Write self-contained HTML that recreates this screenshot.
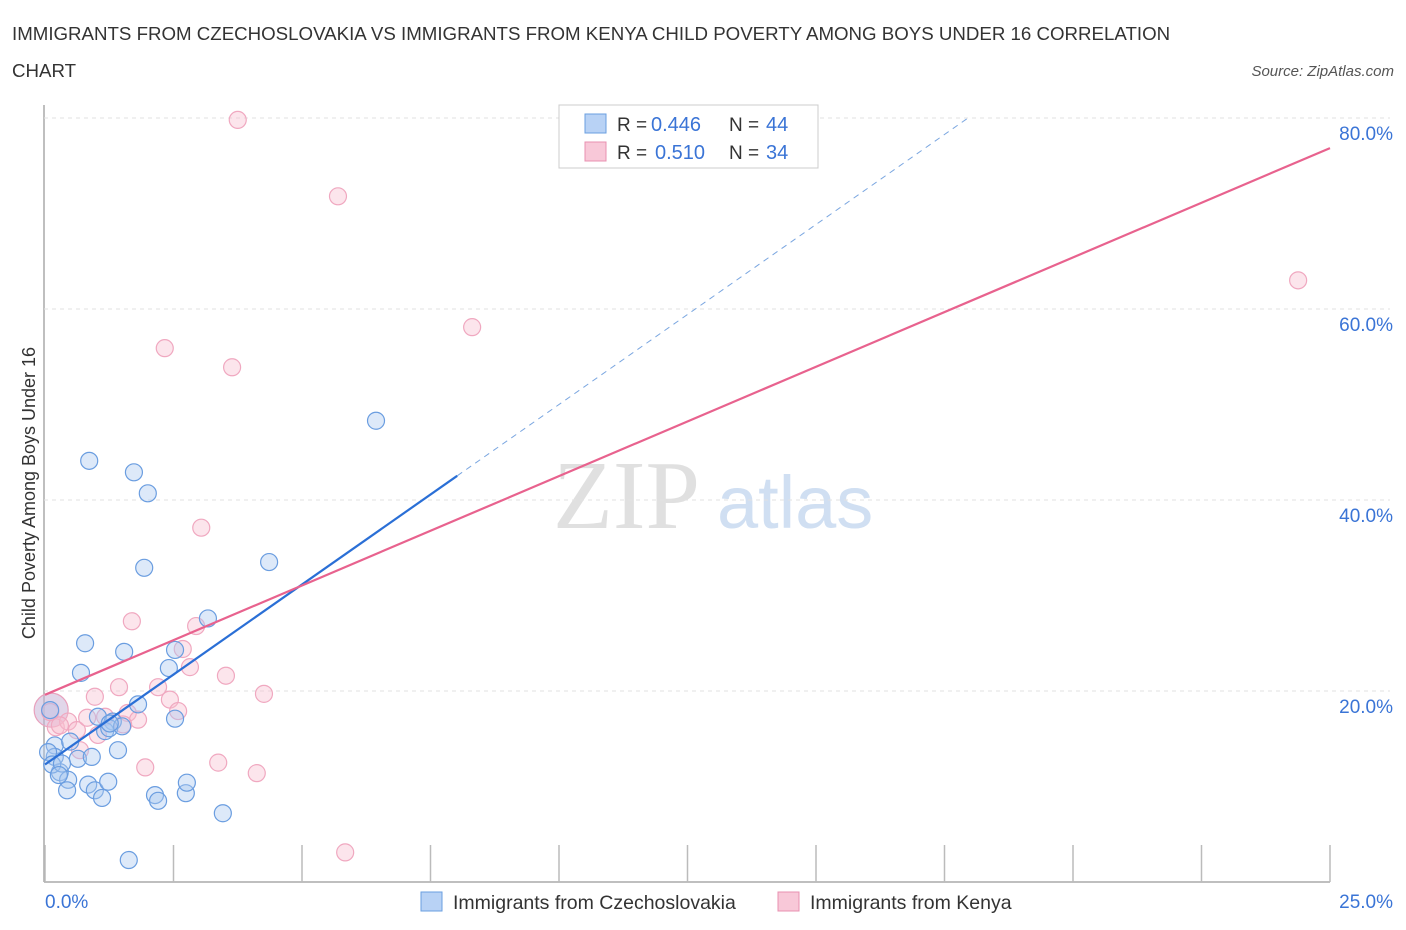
<!DOCTYPE html>
<html><head><meta charset="utf-8"><style>
body{margin:0;background:#fff;font-family:"Liberation Sans",sans-serif;}
svg{display:block}
</style></head><body>
<svg id="chart" width="1406" height="930">
<text x="12" y="40" font-size="18.7" fill="#333">IMMIGRANTS FROM CZECHOSLOVAKIA VS IMMIGRANTS FROM KENYA CHILD POVERTY AMONG BOYS UNDER 16 CORRELATION</text>
<text x="12" y="77" font-size="18.7" fill="#333">CHART</text>
<text x="1394" y="76" font-size="15" fill="#555" font-style="italic" text-anchor="end">Source: ZipAtlas.com</text>
<text x="35" y="493" font-size="18" fill="#333" text-anchor="middle" transform="rotate(-90 35 493)">Child Poverty Among Boys Under 16</text>
<text x="553" y="528" font-size="98" fill="#e0e0e0" font-family="Liberation Serif,serif">ZIP</text>
<text x="717" y="528" font-size="74" fill="#d0dff2">atlas</text>
<g id="grid"></g><g id="marks"></g>
<g>
<rect x="559" y="105" width="259" height="63" fill="#fff" stroke="#ccc"/>
<rect x="585" y="114" width="21" height="19" fill="#b8d2f5" stroke="#6a9fe0"/>
<rect x="585" y="142" width="21" height="19" fill="#f8c8d8" stroke="#e890b0"/>
<text x="617" y="131" font-size="19" fill="#333">R =</text>
<text x="651" y="131" font-size="20" fill="#3a74d6">0.446</text>
<text x="729" y="131" font-size="19" fill="#333">N =</text>
<text x="766" y="131" font-size="20" fill="#3a74d6">44</text>
<text x="617" y="159" font-size="19" fill="#333">R =</text>
<text x="655" y="159" font-size="20" fill="#3a74d6">0.510</text>
<text x="729" y="159" font-size="19" fill="#333">N =</text>
<text x="766" y="159" font-size="20" fill="#3a74d6">34</text>
</g>
<g>
<rect x="421" y="892" width="21" height="19" fill="#b8d2f5" stroke="#6a9fe0"/>
<text x="453" y="909" font-size="19.5" fill="#333">Immigrants from Czechoslovakia</text>
<rect x="778" y="892" width="21" height="19" fill="#f8c8d8" stroke="#e890b0"/>
<text x="810" y="909" font-size="19.5" fill="#333">Immigrants from Kenya</text>
</g>
</svg>
<script>
const yTicks=[20,40,60,80];
const xTickLabels=["0.0%","25.0%"];
const blueX=[0.86,1.73,2.00,6.44,1.93,4.36,3.17,0.78,1.54,0.70,2.53,2.41,1.81,2.53,1.03,1.32,1.17,1.25,1.50,1.42,0.19,0.19,0.29,0.45,0.64,0.49,0.43,0.84,0.97,1.11,1.23,2.14,2.20,2.74,2.76,3.46,1.63,0.06,0.14,0.33,1.26,0.91,0.27,0.1];
const blueY=[44.1,42.9,40.7,48.3,32.9,33.5,27.6,25.0,24.1,21.9,24.3,22.4,18.6,17.1,17.3,16.8,15.8,16.1,16.3,13.8,14.3,13.1,11.5,10.7,12.9,14.7,9.6,10.2,9.6,8.8,10.5,9.1,8.5,9.3,10.4,7.2,2.3,13.6,12.3,12.4,16.6,13.1,11.2,18.0];
const pinkX=[3.75,5.70,8.31,2.33,3.64,3.04,1.69,2.94,2.68,2.82,3.52,1.44,2.20,4.26,0.97,2.43,2.59,0.21,0.45,0.62,0.82,1.61,1.81,1.17,1.52,1.03,0.68,1.95,3.37,4.12,5.84,24.38,0.1,0.29];
const pinkY=[79.8,71.8,58.1,55.9,53.9,37.1,27.3,26.8,24.4,22.5,21.6,20.4,20.4,19.7,19.4,19.1,17.9,16.2,16.8,15.9,17.2,17.7,17.0,17.3,16.5,15.4,13.8,12.0,12.5,11.4,3.1,63.0,17.8,16.4];
const blueTrend=[12.3,3.77];
const pinkTrend=[19.6,2.29];
const NS="http://www.w3.org/2000/svg";
const X0=45,X1=1330,Y0=882,PY=9.55;
const sx=v=>X0+v/25*(X1-X0), sy=v=>Y0-v*PY;
function mk(t,a,p){const e=document.createElementNS(NS,t);for(const k in a)e.setAttribute(k,a[k]);p.appendChild(e);return e;}
const g=document.getElementById('grid'),m=document.getElementById('marks');
mk('line',{x1:44,y1:105,x2:44,y2:882,stroke:'#aaa','stroke-width':1.5},g);
mk('line',{x1:44,y1:882,x2:1330,y2:882,stroke:'#aaa','stroke-width':1.5},g);
for(let i=0;i<=10;i++){const x=sx(i*2.5);const l=mk('line',{x1:x,y1:845,x2:x,y2:882,stroke:'#bbb','stroke-width':1.5},g);

}
yTicks.forEach(v=>{const y=sy(v);const l=mk('line',{x1:44,y1:y,x2:1390,y2:y,stroke:'#e2e2e2','stroke-dasharray':'4,4'},g);


const t=mk('text',{x:1393,y:y+22,'font-size':19,fill:'#3a74d6','text-anchor':'end'},g);t.textContent=v.toFixed(1)+'%';

});
const tl0=mk('text',{x:45,y:908,'font-size':19,fill:'#3a74d6'},g);tl0.textContent=xTickLabels[0];


const tl1=mk('text',{x:1393,y:908,'font-size':19,fill:'#3a74d6','text-anchor':'end'},g);tl1.textContent=xTickLabels[1];


const big=mk('circle',{cx:sx(0.12),cy:sy(18),r:17,fill:'rgba(200,180,215,0.55)',stroke:'#e8a0bc','stroke-width':1.2},m);


pinkX.forEach((x,i)=>{const c=mk('circle',{cx:sx(x),cy:sy(pinkY[i]),r:8.5,fill:'rgba(248,190,208,0.4)',stroke:'#f0a8c0','stroke-width':1.2},m);

});
blueX.forEach((x,i)=>{const c=mk('circle',{cx:sx(x),cy:sy(blueY[i]),r:8.5,fill:'rgba(170,200,240,0.4)',stroke:'#6a9de0','stroke-width':1.2},m);

});
const bx1=8.02,bx2=(80-blueTrend[0])/blueTrend[1];
const bl=mk('line',{x1:sx(0),y1:sy(blueTrend[0]),x2:sx(bx1),y2:sy(blueTrend[0]+blueTrend[1]*bx1),stroke:'#2a6fd6','stroke-width':2.2},m);


const bd=mk('line',{x1:sx(bx1),y1:sy(blueTrend[0]+blueTrend[1]*bx1),x2:sx(bx2),y2:sy(80),stroke:'#7aa6e0','stroke-width':1,'stroke-dasharray':'6,5'},m);


const pl=mk('line',{x1:sx(0),y1:sy(pinkTrend[0]),x2:sx(25),y2:sy(pinkTrend[0]+pinkTrend[1]*25),stroke:'#e8628e','stroke-width':2.2},m);


</script>
</body></html>
